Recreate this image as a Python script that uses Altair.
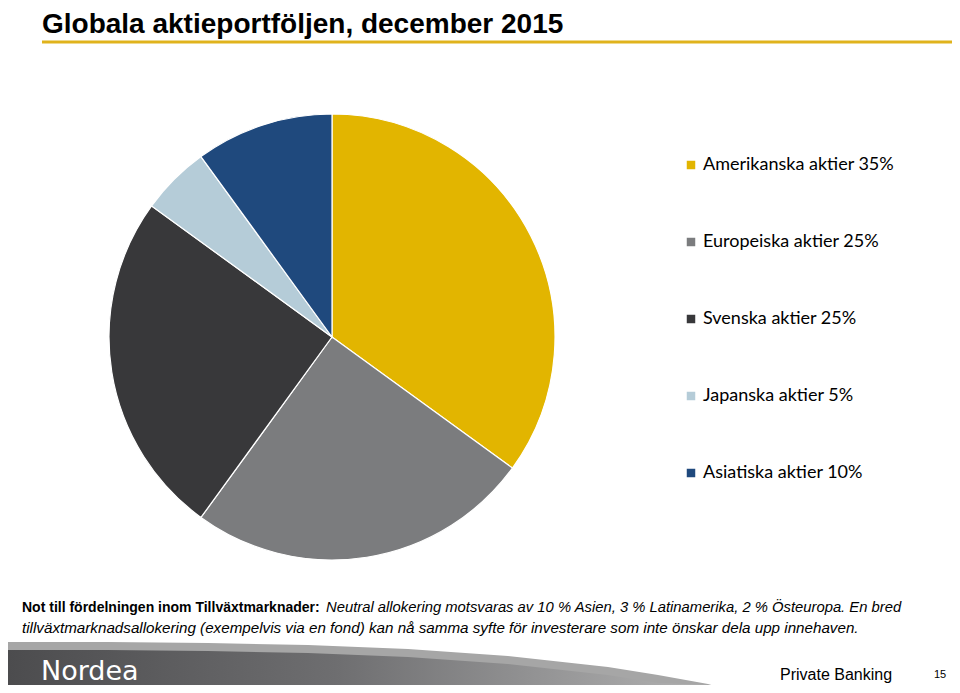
import altair as alt
import pandas as pd

# ---- data ----
categories = ["Amerikanska aktier", "Europeiska aktier", "Svenska aktier", "Japanska aktier", "Asiatiska aktier"]
shares = [35, 25, 25, 5, 10]
colors = ["#E2B500", "#7B7C7E", "#38383A", "#B5CCD8", "#1F497D"]

title_text = "Globala aktieportföljen, december 2015"
note_bold = "Not till fördelningen inom Tillväxtmarknader:"
note_italic_1 = "Neutral allokering motsvaras av 10 % Asien, 3 % Latinamerika, 2 % Östeuropa. En bred"
note_italic_2 = "tillväxtmarknadsallokering (exempelvis via en fond) kan nå samma syfte för investerare som inte önskar dela upp innehaven."
footer_brand = "Nordea"
footer_unit = "Private Banking"
page_number = "15"

# footer banner outline (decoration)
banner_x = [0, 100, 200, 300, 400, 500, 600, 650, 700, 730]
banner_top = [634, 634, 635, 637, 641, 648, 659, 667, 676, 685]

labels = [f"{c} {s}%" for c, s in zip(categories, shares)]
pie_df = pd.DataFrame({"label": labels, "share": shares, "idx": list(range(len(shares)))})

W, H = 944, 677
ident_x = alt.Scale(domain=[0, W], range=[0, W])
ident_y = alt.Scale(domain=[0, H], range=[0, H])

pie = alt.Chart(pie_df).mark_arc(outerRadius=223, stroke="white", strokeWidth=1.2).encode(
    theta=alt.Theta("share:Q", stack=True),
    order=alt.Order("idx:Q"),
    color=alt.Color(
        "label:N",
        scale=alt.Scale(domain=labels, range=colors),
        legend=alt.Legend(
            title=None,
            orient="none",
            legendX=674,
            legendY=148,
            symbolType="square",
            symbolSize=72,
            symbolStrokeWidth=0,
            labelFont="Lato",
            labelFontSize=18,
            labelColor="#000000",
            labelOffset=3,
            labelLimit=400,
            rowPadding=59,
        ),
    ),
    x=alt.value(324),
    y=alt.value(329),
)

def text_layer(txt, x, y, size, font="Liberation Sans", weight="normal", style="normal", color="#000000", align="left"):
    return alt.Chart(pd.DataFrame({"t": [txt]})).mark_text(
        align=align, baseline="alphabetic", font=font, fontSize=size,
        fontWeight=weight, fontStyle=style, color=color
    ).encode(text="t:N", x=alt.value(x), y=alt.value(y))

title = text_layer(title_text, 34, 25, 28, weight="bold")
rule = alt.Chart(pd.DataFrame({"a": [0]})).mark_rule(color="#E0B31C", strokeWidth=3).encode(
    x=alt.value(34), x2=alt.value(944), y=alt.value(34)
)

n1 = text_layer(note_bold, 14, 604, 14, weight="bold")
n2 = text_layer(note_italic_1, 318, 604, 14.8, style="italic")
n3 = text_layer(note_italic_2, 14, 625, 15.2, style="italic")

banner_df = pd.DataFrame({
    "x": banner_x,
    "top": banner_top,
    "top2": [min(t + 8, H) for t in banner_top],
    "bottom": [H] * len(banner_x),
})
light = alt.Chart(banner_df).mark_area(color="#A6A6A6", orient="vertical").encode(
    x=alt.X("x:Q", scale=ident_x, axis=None),
    y=alt.Y("top:Q", scale=ident_y, axis=None),
    y2="bottom:Q",
)
dark = alt.Chart(banner_df).mark_area(
    orient="vertical",
    color=alt.LinearGradient(
        gradient="linear",
        stops=[alt.GradientStop(color="#4C4C4E", offset=0),
               alt.GradientStop(color="#6E6E70", offset=0.45),
               alt.GradientStop(color="#B8B8B8", offset=1)],
        x1=0, x2=1, y1=0, y2=0,
    ),
).encode(
    x=alt.X("x:Q", scale=ident_x, axis=None),
    y=alt.Y("top2:Q", scale=ident_y, axis=None),
    y2="bottom:Q",
)

brand = text_layer(footer_brand, 33, 672, 27, font="DejaVu Sans", color="#FFFFFF")
unit = text_layer(footer_unit, 772, 672, 16, font="Liberation Sans")
pnum = text_layer(page_number, 926, 670, 11, font="Liberation Sans")

chart = alt.layer(light, dark, pie, title, rule, n1, n2, n3, brand, unit, pnum).properties(
    width=W, height=H, autosize=alt.AutoSizeParams(type="none"), padding=0
).configure_view(stroke=None)

chart.save("out.html", embed_options={"renderer": "svg", "actions": False})
